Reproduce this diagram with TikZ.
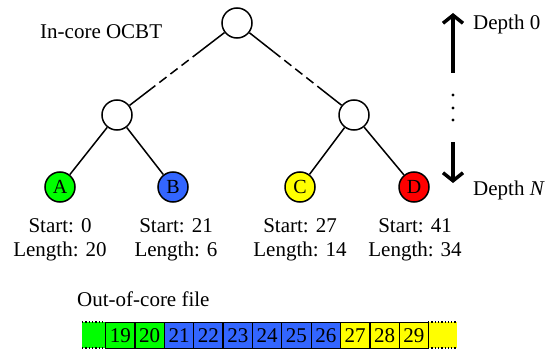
\documentclass[tikz,border=0pt]{standalone}
\usepackage{fontspec}
\setmainfont{Liberation Serif}
\usetikzlibrary{calc,arrows.meta}

\definecolor{leafgreen}{RGB}{0,255,0}
\definecolor{leafblue}{RGB}{51,102,255}
\definecolor{leafyellow}{RGB}{255,255,0}
\definecolor{leafred}{RGB}{255,0,0}

\tikzset{
  txt/.style={font=\fontsize{21}{24}\selectfont, inner sep=0pt},
  treenode/.style={circle, draw=black, line width=1.5pt, minimum size=30pt, inner sep=0pt, fill=white},
  leafnode/.style={treenode, fill=#1, font=\fontsize{20}{24}\selectfont},
  edge/.style={line width=1.5pt},
  gapedge/.style={edge, dash pattern=on 9pt off 5pt},
  deptharrow/.style={line width=3.5pt, -{Straight Barb[length=8pt,width=20pt,line width=3.5pt]}},
  cell/.style={draw=black, line width=1.3pt, minimum width=29.36pt, minimum height=26pt,
               inner sep=0pt, anchor=north west, font=\fontsize{21}{24}\selectfont, fill=#1},
}

\begin{document}
\begin{tikzpicture}[x=1pt,y=-1pt]
  \useasboundingbox (0,0) rectangle (551,350);

  % tree
  \node[treenode] (root) at (237,23) {};
  \node[treenode] (lm) at (117,115) {};
  \node[treenode] (rm) at (354,115) {};
  \node[leafnode=leafgreen]  (A) at (60,187)  {A};
  \node[leafnode=leafblue]   (B) at (173,187) {B};
  \node[leafnode=leafyellow] (C) at (300,187) {C};
  \node[leafnode=leafred]    (D) at (414,187) {D};

  % upper edges: solid ends, dashed middle (levels omitted)
  \coordinate (l1) at ($(root)!0.31!(lm)$);
  \coordinate (l2) at ($(root)!0.71!(lm)$);
  \coordinate (r1) at ($(root)!0.31!(rm)$);
  \coordinate (r2) at ($(root)!0.71!(rm)$);
  \draw[edge] (root) -- (l1);
  \draw[gapedge] (l1) -- (l2);
  \draw[edge] (l2) -- (lm);
  \draw[edge] (root) -- (r1);
  \draw[gapedge] (r1) -- (r2);
  \draw[edge] (r2) -- (rm);

  \draw[edge] (lm) -- (A);
  \draw[edge] (lm) -- (B);
  \draw[edge] (rm) -- (C);
  \draw[edge] (rm) -- (D);

  \node[txt, anchor=base west] (title) at (40,39) {In-core OCBT};

  % leaf ranges
  \node[txt, anchor=base] (sA) at (60,232)  {Start: 0};
  \node[txt, anchor=base] (lA) at (60,256)  {Length: 20};
  \node[txt, anchor=base] (sB) at (176,232) {Start: 21};
  \node[txt, anchor=base] (lB) at (176,256) {Length: 6};
  \node[txt, anchor=base] (sC) at (300,232) {Start: 27};
  \node[txt, anchor=base] (lC) at (300,256) {Length: 14};
  \node[txt, anchor=base] (sD) at (415,232) {Start: 41};
  \node[txt, anchor=base] (lD) at (415,256) {Length: 34};

  % depth axis
  \coordinate (upA) at (453,73);
  \coordinate (upB) at (453,13);
  \coordinate (dnA) at (453,142);
  \coordinate (dnB) at (453,183);
  \draw[deptharrow] (upA) -- (upB);
  \draw[deptharrow] (dnA) -- (dnB);
  \foreach \yy in {95,108,120} \fill (453,\yy) circle (1.6pt);
  \node[txt, anchor=base west] (d0) at (473,30) {Depth 0};
  \node[txt, anchor=base west] (dN) at (473,195) {Depth \textit{N}};

  % out-of-core file
  \node[txt, anchor=base west] (file) at (77,306) {Out-of-core file};
  \fill[leafgreen] (82,322) rectangle (105,348);
  \fill[leafyellow] (428,322) rectangle (457,348);
  \draw[line width=1.3pt, dotted] (82,322) -- (105,322) (82,348) -- (105,348);
  \draw[line width=1.3pt, dotted] (428,322) -- (457,322) (428,348) -- (457,348);
  \foreach \n/\col [count=\i from 0] in {19/leafgreen,20/leafgreen,21/leafblue,22/leafblue,
      23/leafblue,24/leafblue,25/leafblue,26/leafblue,27/leafyellow,28/leafyellow,29/leafyellow}
    \node[cell=\col] (c\n) at ({105+29.36*\i},322) {\n};
\end{tikzpicture}
\end{document}
